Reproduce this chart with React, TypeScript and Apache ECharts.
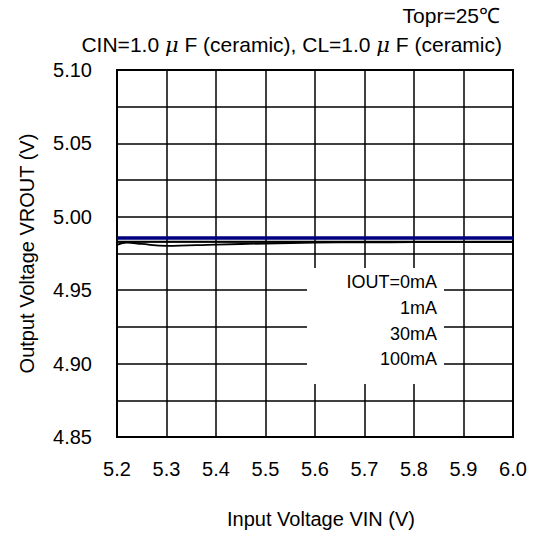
import { useEffect, useRef } from "react";
import * as echarts from "echarts";

// Input voltage VIN (V) sample points
const vin = [5.2, 5.22, 5.25, 5.3, 5.4, 5.5, 5.6, 5.7, 5.8, 5.9, 6.0];
// Output voltage VROUT (V) for each load current
const vout0mA = [4.9855, 4.9855, 4.9855, 4.9855, 4.9855, 4.9855, 4.9855, 4.9855, 4.9855, 4.9855, 4.9855];
const vout1mA = [4.9831, 4.9831, 4.9831, 4.9831, 4.9831, 4.9831, 4.9831, 4.9831, 4.9831, 4.9831, 4.9831];
const vout30mA = [4.9829, 4.9829, 4.9829, 4.9829, 4.9829, 4.9829, 4.9829, 4.9829, 4.9829, 4.9829, 4.9829];
const vout100mA = [4.9809, 4.9825, 4.9815, 4.9802, 4.9811, 4.9818, 4.9824, 4.9826, 4.9827, 4.9828, 4.9828];

const seriesNames = ["IOUT=0mA", "1mA", "30mA", "100mA"];
const seriesColors = ["#00007f", "#000000", "#000000", "#000000"];
const seriesWidths = [3.5, 1.8, 1.8, 1.8];
const seriesData = [vout0mA, vout1mA, vout30mA, vout100mA];

// Labelled y ticks (grid lines every 0.025, labels every 0.05)
const yTickLabels = ["4.85", "4.90", "4.95", "5.00", "5.05", "5.10"];

const conditionLine1 = "Topr=25℃";
const xAxisName = "Input Voltage VIN (V)";
const yAxisName = "Output Voltage VROUT (V)";

const FONT = "'Liberation Sans', Arial, Helvetica, sans-serif";

export default function App() {
  const ref = useRef<HTMLDivElement>(null);

  useEffect(() => {
    if (!ref.current) return;
    const chart = echarts.init(ref.current, undefined, { renderer: "svg" });

    const legendY = [281.5, 308, 333.5, 359];

    chart.setOption({
      animation: false,
      backgroundColor: "#ffffff",
      textStyle: { fontFamily: FONT, color: "#000" },
      grid: {
        left: 117,
        right: 20,
        top: 70,
        bottom: 98,
        show: true,
        borderColor: "#000",
        borderWidth: 2,
        backgroundColor: "transparent",
      },
      xAxis: {
        type: "value",
        min: 5.2,
        max: 6.0,
        interval: 0.1,
        name: xAxisName,
        nameLocation: "middle",
        nameGap: 72,
        nameTextStyle: { fontSize: 20, fontFamily: FONT, color: "#000", padding: [0, 0, 0, 12] },
        axisLine: { show: false },
        axisTick: { show: false },
        axisLabel: {
          fontSize: 20,
          fontFamily: FONT,
          color: "#000",
          margin: 22,
          formatter: (v: number) => v.toFixed(1),
        },
        splitLine: { show: true, lineStyle: { color: "#000", width: 1.5 } },
      },
      yAxis: {
        type: "value",
        min: 4.85,
        max: 5.1,
        interval: 0.025,
        name: yAxisName,
        nameLocation: "middle",
        nameGap: 80,
        nameRotate: 90,
        nameTextStyle: { fontSize: 20, fontFamily: FONT, color: "#000" },
        axisLine: { show: false },
        axisTick: { show: false },
        axisLabel: {
          fontSize: 20,
          fontFamily: FONT,
          color: "#000",
          margin: 25,
          formatter: (v: number) => {
            const s = v.toFixed(2);
            return yTickLabels.includes(s) && Math.abs(parseFloat(s) - v) < 1e-6 ? s : "";
          },
        },
        splitLine: { show: true, lineStyle: { color: "#000", width: 1.5 } },
      },
      series: seriesNames.map((name, i) => ({
        name,
        type: "line",
        data: vin.map((x, j) => [x, seriesData[i][j]]),
        showSymbol: false,
        smooth: i === 3 ? 0.4 : false,
        lineStyle: { color: seriesColors[i], width: seriesWidths[i] },
        z: i === 0 ? 5 : 4,
      })),
      graphic: [
        {
          type: "text",
          right: 33,
          top: 5,
          z: 100,
          style: {
            text: conditionLine1,
            fontSize: 21,
            fontFamily: FONT,
            fill: "#000",
          },
        },
        {
          type: "text",
          right: 31,
          top: 34,
          z: 100,
          style: {
            text: "CIN=1.0 {mu|μ} F (ceramic), CL=1.0 {mu|μ} F (ceramic)",
            fontSize: 21,
            fontFamily: FONT,
            fill: "#000",
            rich: {
              mu: { fontSize: 21, fontStyle: "italic", fontFamily: "'DejaVu Serif', serif", fill: "#000" },
            },
          },
        },
        {
          type: "rect",
          z: 100,
          shape: { x: 307, y: 268, width: 137, height: 116 },
          style: { fill: "#ffffff", stroke: null },
        },
        ...seriesNames.map((name, i) => ({
          type: "text",
          z: 101,
          x: 437,
          y: legendY[i],
          style: {
            text: name,
            fontSize: 18,
            fontFamily: FONT,
            fill: "#000",
            align: "right",
            verticalAlign: "middle",
          },
        })),
      ],
    });

    return () => {
      chart.dispose();
    };
  }, []);

  return (
    <div
      ref={ref}
      style={{ position: "fixed", left: 0, top: 0, width: 533, height: 535, background: "#fff" }}
    />
  );
}
